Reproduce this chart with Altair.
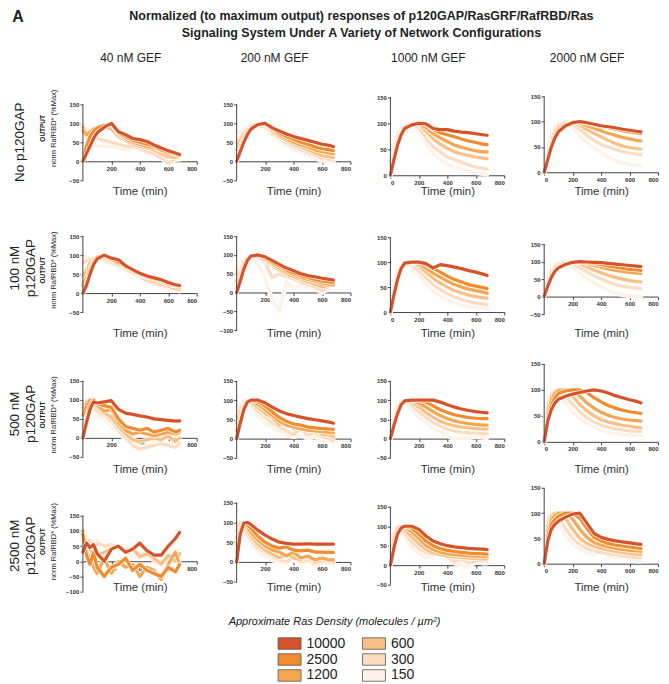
import altair as alt
import pandas as pd

# ---------------- data ----------------
TIME = [0, 25, 50, 75, 100, 150, 200, 250, 300, 350, 400, 450, 500, 550, 600, 650, 680]
DENSITY = ["10000", "2500", "1200", "600", "300", "150"]
COLORS = ["#d6532a", "#f28a2e", "#f6a650", "#f9bf84", "#fcdcc0", "#fef1e6"]
GEF = ["40 nM GEF", "200 nM GEF", "1000 nM GEF", "2000 nM GEF"]
GAP = ["No p120GAP", "100 nM\np120GAP", "500 nM\np120GAP", "2500 nM\np120GAP"]
Y_LOW = [[-50, -50, 0, 0], [-50, -100, 0, -50], [-50, -50, -50, 0], [-100, -50, -50, 0]]
TITLE = "Normalized (to maximum output) responses of p120GAP/RasGRF/RafRBD/Ras\nSignaling System Under A Variety of Network  Configurations"
LEGEND_TITLE = "Approximate Ras Density (molecules / \u00b5m\u00b2)"

# each panel: six series in DENSITY order (10000 ... 150)
nogap_gef40 = [
    [0, 20, 40, 60, 75, 90, 100, 78, 70, 60, 57, 52, 43, 35, 28, 22, 18],
    [0, 40, 65, 80, 88, 95, 98, 75, 65, 55, 50, 45, 40, 30, 25, 20, 15],
    [80, 70, 78, 85, 90, 95, 97, 72, 60, 50, 45, 38, 35, 28, 20, 18, 15],
    [90, 75, 70, 80, 88, 92, 85, 65, 55, 45, 40, 35, 30, 20, 12, 10, 12],
    [95, 60, 50, 55, 60, 55, 50, 45, 40, 38, 35, 25, 20, 10, -5, 5, 10],
    [100, 80, 60, 45, 40, 40, 40, 35, 30, 35, 30, 20, 15, 10, -10, 5, 5],
]
nogap_gef200 = [
    [0, 25, 50, 70, 85, 97, 100, 88, 80, 72, 65, 60, 55, 50, 45, 42, 38],
    [0, 30, 55, 75, 88, 97, 100, 85, 75, 65, 58, 50, 45, 38, 33, 30, 28],
    [10, 40, 62, 80, 92, 98, 98, 82, 70, 60, 50, 43, 38, 30, 25, 22, 20],
    [30, 55, 72, 85, 95, 98, 95, 78, 65, 55, 45, 38, 30, 22, 15, 12, 10],
    [50, 65, 78, 88, 95, 95, 90, 72, 60, 48, 38, 30, 22, 15, 8, 5, 3],
    [80, 75, 85, 90, 92, 90, 85, 68, 55, 42, 32, 22, 15, 8, 2, 0, -2],
]
nogap_gef1000 = [
    [0, 30, 58, 78, 90, 97, 100, 99, 90, 88, 88, 85, 83, 82, 80, 78, 77],
    [0, 32, 60, 80, 92, 98, 100, 98, 88, 82, 78, 74, 70, 66, 63, 60, 59],
    [5, 38, 65, 83, 93, 99, 99, 92, 80, 72, 65, 58, 54, 50, 47, 45, 45],
    [10, 45, 70, 86, 95, 99, 97, 85, 70, 60, 52, 45, 41, 38, 35, 33, 32],
    [20, 55, 78, 90, 97, 98, 92, 72, 55, 45, 35, 30, 25, 20, 16, 13, 12],
    [30, 60, 80, 92, 97, 95, 85, 62, 42, 30, 22, 15, 12, 8, 5, 3, 2],
]
nogap_gef2000 = [
    [0, 25, 50, 68, 80, 92, 98, 100, 98, 95, 92, 90, 88, 85, 83, 81, 80],
    [0, 28, 52, 70, 83, 94, 99, 100, 97, 94, 91, 88, 85, 82, 80, 78, 77],
    [5, 32, 57, 75, 87, 96, 100, 97, 92, 87, 82, 77, 73, 69, 66, 63, 62],
    [10, 38, 62, 80, 90, 98, 99, 93, 85, 77, 70, 63, 57, 52, 49, 47, 46],
    [20, 45, 70, 85, 94, 99, 96, 85, 73, 63, 55, 50, 45, 41, 38, 36, 35],
    [30, 55, 77, 90, 97, 97, 88, 72, 58, 48, 40, 30, 22, 18, 15, 14, 13],
]
gap100_gef40 = [
    [0, 20, 50, 75, 90, 100, 92, 88, 72, 62, 52, 45, 40, 35, 28, 22, 20],
    [0, 25, 60, 80, 95, 98, 90, 82, 70, 60, 50, 42, 38, 33, 25, 20, 18],
    [20, 40, 65, 85, 95, 95, 88, 78, 68, 58, 48, 40, 35, 30, 22, 18, 15],
    [45, 60, 80, 90, 95, 92, 85, 75, 65, 55, 45, 35, 30, 25, 18, 12, 10],
    [80, 85, 90, 88, 92, 88, 80, 72, 62, 52, 42, 32, 25, 20, 15, 10, 8],
    [90, 95, 85, 80, 85, 85, 75, 68, 58, 48, 38, 28, 22, 15, 10, 8, 5],
]
gap100_gef200 = [
    [0, 30, 62, 85, 97, 100, 95, 85, 75, 65, 58, 50, 45, 42, 38, 35, 33],
    [0, 35, 65, 88, 97, 98, 92, 80, 70, 60, 52, 45, 40, 35, 30, 28, 27],
    [10, 45, 72, 90, 97, 95, 88, 76, 65, 55, 48, 40, 35, 30, 25, 22, 20],
    [30, 55, 80, 93, 97, 93, 85, 72, 60, 50, 42, 35, 28, 22, 15, 20, 18],
    [50, 60, 85, 95, 98, 90, 80, 40, 50, 42, 35, 28, 20, 15, 5, 15, 25],
    [60, 70, 80, 65, 95, 75, 40, -20, -50, 30, 10, 20, 15, 10, 0, 10, 30],
]
gap100_gef1000 = [
    [0, 35, 65, 87, 98, 100, 100, 97, 88, 95, 93, 90, 87, 83, 80, 76, 73],
    [0, 38, 68, 88, 98, 100, 99, 95, 88, 80, 72, 65, 60, 55, 52, 49, 47],
    [5, 42, 72, 90, 99, 100, 96, 88, 78, 70, 62, 55, 50, 46, 43, 40, 38],
    [10, 48, 77, 93, 99, 98, 92, 80, 68, 58, 50, 43, 38, 34, 31, 29, 28],
    [15, 55, 82, 95, 99, 95, 82, 68, 55, 45, 37, 30, 25, 21, 18, 16, 15],
    [25, 62, 85, 96, 98, 88, 72, 55, 42, 32, 25, 18, 14, 11, 9, 8, 7],
]
gap100_gef2000 = [
    [0, 30, 55, 72, 82, 92, 98, 100, 99, 98, 97, 95, 93, 91, 89, 87, 86],
    [0, 32, 58, 75, 85, 94, 99, 100, 98, 95, 91, 88, 84, 81, 78, 76, 75],
    [5, 38, 62, 78, 88, 96, 100, 98, 94, 89, 84, 79, 75, 72, 69, 67, 66],
    [10, 42, 68, 83, 92, 99, 99, 94, 85, 76, 68, 61, 55, 50, 46, 43, 42],
    [20, 50, 75, 88, 95, 99, 94, 83, 70, 60, 50, 42, 35, 30, 26, 24, 23],
    [30, 58, 80, 92, 97, 94, 84, 68, 52, 38, 28, 18, 10, 5, 2, 0, 0],
]
gap500_gef40 = [
    [0, 40, 75, 95, 92, 95, 98, 75, 65, 62, 58, 55, 50, 48, 46, 44, 45],
    [0, 50, 85, 100, 90, 85, 80, 50, 30, 25, 20, 25, 15, 20, 25, 15, 20],
    [60, 85, 100, 95, 85, 70, 75, 40, 20, 10, 15, 10, 5, 10, 15, 10, 15],
    [80, 95, 100, 90, 80, 65, 55, 30, 10, -5, -10, -5, 0, -5, 5, -10, 0],
    [90, 100, 95, 85, 70, 60, 45, 20, 0, -20, -30, -25, -20, -15, -20, -25, -15],
    [85, 100, 90, 80, 60, 50, 30, 15, -5, -10, -25, -20, -15, -10, -20, -20, -25],
]
gap500_gef200 = [
    [0, 40, 75, 95, 100, 100, 93, 82, 72, 65, 60, 56, 52, 49, 46, 43, 40],
    [0, 45, 80, 97, 100, 95, 85, 70, 55, 45, 38, 35, 30, 28, 26, 25, 24],
    [20, 55, 85, 98, 100, 88, 75, 60, 45, 35, 30, 25, 22, 20, 18, 16, 15],
    [40, 70, 90, 98, 95, 80, 65, 55, 35, 45, 25, 35, 20, 25, 10, 10, 5],
    [60, 80, 95, 100, 90, 70, 55, 40, 30, 20, 10, 25, 10, 15, 5, 0, -5],
    [80, 90, 100, 95, 85, 60, 40, 30, 20, 10, 5, 10, 0, 5, -5, -5, -10],
]
gap500_gef1000 = [
    [0, 35, 65, 88, 98, 100, 100, 100, 100, 95, 88, 82, 77, 73, 70, 68, 67],
    [0, 40, 70, 90, 99, 100, 99, 95, 85, 75, 68, 62, 58, 55, 53, 52, 52],
    [5, 45, 75, 92, 99, 99, 92, 82, 70, 60, 52, 46, 42, 39, 37, 35, 35],
    [10, 52, 80, 95, 99, 94, 82, 68, 55, 45, 38, 33, 30, 28, 26, 25, 25],
    [20, 60, 85, 97, 98, 86, 70, 55, 42, 32, 25, 20, 17, 15, 14, 13, 13],
    [30, 68, 90, 98, 94, 75, 55, 40, 28, 18, 8, -2, 0, 2, 5, 3, 2],
]
gap500_gef2000 = [
    [0, 40, 62, 75, 82, 88, 92, 95, 98, 100, 98, 94, 89, 85, 81, 78, 75],
    [0, 45, 70, 85, 93, 98, 100, 100, 95, 85, 77, 70, 65, 61, 58, 56, 55],
    [5, 55, 80, 93, 99, 100, 100, 88, 75, 65, 57, 51, 47, 44, 42, 41, 40],
    [15, 65, 88, 97, 100, 100, 88, 72, 60, 50, 43, 38, 35, 32, 30, 28, 27],
    [25, 75, 93, 99, 100, 88, 72, 58, 46, 38, 32, 28, 25, 23, 21, 20, 20],
    [35, 82, 96, 100, 95, 75, 58, 45, 35, 28, 22, 18, 16, 14, 13, 12, 12],
]
gap2500_gef40 = [
    [30, 60, 45, 55, 25, 0, 40, 50, 30, 40, 60, 35, 20, 20, 50, 75, 95],
    [90, 20, -10, 30, -20, -50, -20, -10, 10, -30, -10, -30, -40, -50, -20, -35, -10],
    [100, 30, 10, -20, -40, 10, -40, 0, -20, -10, -50, -20, -30, -60, -10, 30, -10],
    [80, 50, 40, 20, 20, 30, 40, 50, 35, 40, 15, 25, 10, -10, 20, 0, 25],
    [70, 60, 70, 40, 60, 50, 55, 45, 40, 45, 20, 30, 0, -10, 10, 30, 20],
    [90, 80, 60, 50, 70, 40, 50, 45, 30, 10, 20, 15, 10, 0, 20, 35, 40],
]
gap2500_gef200 = [
    [0, 70, 98, 100, 95, 80, 68, 58, 50, 47, 45, 45, 46, 45, 45, 45, 45],
    [20, 80, 100, 95, 85, 65, 50, 40, 35, 38, 30, 28, 30, 25, 25, 24, 24],
    [40, 85, 100, 88, 75, 55, 40, 30, 25, 15, 25, 10, 15, 5, 10, 5, 5],
    [60, 95, 95, 80, 65, 45, 30, 20, 10, 20, 10, 5, 15, 0, 5, 5, 0],
    [80, 100, 88, 70, 55, 35, 25, 15, 5, 0, 15, 0, 5, -5, 0, 0, -5],
    [90, 95, 80, 60, 45, 25, 15, 5, 0, -5, 5, -5, 0, -10, -5, -5, -5],
]
gap2500_gef1000 = [
    [0, 45, 80, 95, 100, 100, 92, 75, 62, 55, 50, 47, 45, 43, 42, 41, 40],
    [0, 55, 85, 98, 100, 95, 80, 62, 50, 42, 38, 35, 33, 31, 30, 29, 28],
    [10, 65, 92, 100, 98, 85, 68, 50, 40, 33, 29, 27, 25, 24, 23, 22, 22],
    [25, 75, 97, 100, 92, 72, 55, 40, 32, 27, 23, 21, 19, 18, 17, 16, 16],
    [40, 85, 99, 95, 82, 58, 42, 32, 28, 35, 20, 10, 15, 5, 10, 12, 10],
    [55, 90, 98, 85, 70, 45, 30, 20, 25, 30, 15, 5, 0, -5, 10, 5, 5],
]
gap2500_gef2000 = [
    [0, 45, 68, 78, 84, 92, 98, 100, 80, 60, 52, 48, 45, 43, 41, 39, 38],
    [0, 55, 78, 88, 94, 100, 100, 90, 70, 52, 45, 40, 37, 35, 33, 31, 30],
    [5, 65, 86, 95, 100, 100, 88, 68, 52, 42, 37, 33, 30, 28, 26, 25, 24],
    [15, 75, 93, 100, 100, 90, 68, 50, 40, 34, 30, 27, 24, 22, 20, 19, 18],
    [30, 85, 98, 100, 92, 70, 50, 38, 30, 25, 22, 20, 18, 16, 14, 12, 12],
    [45, 92, 100, 95, 80, 55, 38, 28, 22, 18, 25, 15, 12, 15, 10, 5, 5],
]

PANELS = [
    [nogap_gef40, nogap_gef200, nogap_gef1000, nogap_gef2000],
    [gap100_gef40, gap100_gef200, gap100_gef1000, gap100_gef2000],
    [gap500_gef40, gap500_gef200, gap500_gef1000, gap500_gef2000],
    [gap2500_gef40, gap2500_gef200, gap2500_gef1000, gap2500_gef2000],
]

# ---------------- layout (page pixels) ----------------
PW = 114
COL_X = [83, 237, 391, 545]
TOP150 = [[104, 104, 97, 96], [236, 236, 237, 244], [381, 381, 381, 364], [516, 503, 507, 488]]
BOTTOM = [[180, 180, 175, 172], [312, 330, 312, 314], [457, 458, 458, 442], [592, 582, 585, 564]]
FRAME = [(96, 206), (236, 334), (364, 458), (488, 592)]
TIME_TITLE_Y = [191, 333, 470, 588]
ROW_LABEL_X = [20, 15, 15, 15]
ROW_LABEL_Y = [142, 268, 414, 546]
YTITLE_Y = [128, 270, 415, 542]
HEADER_X = [131, 275, 429, 588]
FONT = "Liberation Sans"
AX = "#444444"

color_scale = alt.Scale(domain=DENSITY, range=COLORS)


def text_layer(s, px, py, ox, oy, size, weight="normal", angle=0, color="#222222", style="normal", lh=None):
    # px, py: page position; ox, oy: page position of the panel origin
    return alt.Chart(pd.DataFrame({"s": [s]})).mark_text(
        fontSize=size, fontWeight=weight, angle=angle, color=color, font=FONT,
        fontStyle=style, align="center", baseline="middle", lineBreak="\n",
        lineHeight=lh if lh else size + 3,
    ).encode(text="s:N", x=alt.value(px - ox), y=alt.value(py - oy))


def anchor_layer(ox, oy):
    # invisible 1px box fixing the top-left corner of the drawing at the page margin
    return alt.Chart(pd.DataFrame({"a": [0]})).mark_rect(opacity=0).encode(
        x=alt.value(8 - ox), x2=alt.value(9 - ox), y=alt.value(8 - oy), y2=alt.value(9 - oy))


def legend_layer(ox, oy, H):
    leg_df = pd.DataFrame({"density": DENSITY, "col": [0, 0, 0, 1, 1, 1], "row": [0, 1, 2, 0, 1, 2]})
    sx0, sdx = 290 - ox, 84.5
    sy0, sdy = 644 - oy, 16.0
    lx = alt.X("col:Q", scale=alt.Scale(domain=[-sx0 / sdx, (PW - sx0) / sdx], nice=False, zero=False), axis=None)
    ly = alt.Y("row:Q", scale=alt.Scale(domain=[-sy0 / sdy, (H - sy0) / sdy], nice=False, zero=False, reverse=True),
               axis=None)
    sw = alt.Chart(leg_df).mark_point(
        shape="M-1,-0.5H1V0.5H-1Z", size=529, filled=True, opacity=1, stroke="#555555", strokeWidth=0.8
    ).encode(x=lx, y=ly, color=alt.Color("density:N", scale=color_scale, legend=None))
    lab = alt.Chart(leg_df).mark_text(align="left", baseline="middle", dx=17, fontSize=14,
                                      font=FONT, color="#222222").encode(x=lx, y=ly, text="density:N")
    return alt.layer(sw, lab)


def panel(r, c):
    series = PANELS[r][c]
    lo = Y_LOW[r][c]
    t150, bot = TOP150[r][c], BOTTOM[r][c]
    ft, fb = FRAME[r]
    ox, oy = COL_X[c], ft
    k = (bot - t150) / (150 - lo)
    dhi = 150 + (t150 - ft) / k
    dlo = lo - (fb - bot) / k
    H = fb - ft
    y0 = dhi * k
    off = y0 - H
    yscale = alt.Scale(domain=[dlo, dhi], nice=False, zero=False)
    xscale = alt.Scale(domain=[0, 800], nice=False)
    yax = alt.Axis(values=list(range(lo, 151, 50)), domain=False, grid=False, title=None,
                   tickSize=3, tickColor=AX, labelFontSize=6, labelPadding=1,
                   labelColor="#333333", labelFont=FONT, labelFontWeight="bold")
    xvals = [0, 200, 400, 600, 800] if lo == 0 else [200, 400, 600, 800]
    xax = alt.Axis(values=xvals, offset=off, grid=False, title="Time (min)",
                   titleY=TIME_TITLE_Y[r] - (ft + y0), titleBaseline="middle",
                   titleFontSize=11.5, titleFontWeight="normal", titleColor="#333333",
                   titleFont=FONT, tickSize=3, tickColor=AX, domainColor=AX,
                   labelFontSize=6, labelPadding=1, labelColor="#333333",
                   labelFont=FONT, labelFontWeight="bold")
    independent = (r == 3 and c == 0)

    layers = []
    # lightest series first so the darkest ends up on top; each line gets a thin white halo
    for i in reversed(range(len(DENSITY))):
        sdf = pd.DataFrame({"t": TIME, "v": series[i], "density": DENSITY[i]})
        halo = alt.Chart(sdf).mark_line(color="white", strokeWidth=4.6, strokeJoin="round", strokeCap="round").encode(
            x=alt.X("t:Q", scale=xscale, axis=xax),
            y=alt.Y("v:Q", scale=yscale, axis=yax),
        )
        line = alt.Chart(sdf).mark_line(strokeWidth=3.2, strokeJoin="round", strokeCap="round").encode(
            x=alt.X("t:Q", scale=xscale, axis=xax),
            y=alt.Y("v:Q", scale=yscale, axis=yax),
            color=alt.Color("density:N", scale=color_scale, legend=None),
        )
        if independent:
            layers.append(alt.layer(halo, line))
        else:
            layers += [halo, line]
    if independent:
        layers = [alt.layer(*layers)]

    yline = alt.Chart(pd.DataFrame({"lo": [lo], "hi": [150]})).mark_rule(
        color=AX, strokeWidth=1).encode(
        x=alt.value(0),
        y=alt.Y("lo:Q", scale=yscale, axis=None if independent else yax),
        y2="hi:Q",
    )
    layers.append(yline)
    if r == 0:
        layers.append(text_layer(GEF[c], HEADER_X[c], 58, ox, oy, 12))
    if c == 0:
        layers.append(text_layer(GAP[r], ROW_LABEL_X[r], ROW_LABEL_Y[r], ox, oy, 13.5, angle=270, lh=16))
        layers.append(text_layer("OUTPUT", 43.5, YTITLE_Y[r], ox, oy, 6.5, weight="bold", angle=270))
        layers.append(text_layer("norm RafRBD* (%Max)", 54, YTITLE_Y[r], ox, oy, 7.5, angle=270))
    if r == 0 and c == 0:
        layers.append(anchor_layer(ox, oy))
        layers.append(text_layer("A", 18, 17, ox, oy, 16, weight="bold"))
        layers.append(text_layer(TITLE, 362, 15, ox, oy, 12.5, weight="bold", lh=18))
    if independent:
        layers.append(text_layer(LEGEND_TITLE, 335, 622, ox, oy, 11, style="italic"))
        layers.append(legend_layer(ox, oy, H))
        return alt.layer(*layers).resolve_scale(x="independent", y="independent").properties(width=PW, height=H)
    return alt.layer(*layers).properties(width=PW, height=H)


panels = [panel(r, c) for r in range(4) for c in range(4)]
chart = alt.concat(*panels, columns=4, spacing=alt.RowColnumber(row=30, column=40),
                   bounds="flush", align="each").properties(
    padding={"left": 0, "top": 0, "right": 2, "bottom": 0},
).configure_view(stroke=None)

chart.save("out.html", embed_options={"renderer": "svg", "actions": False})
